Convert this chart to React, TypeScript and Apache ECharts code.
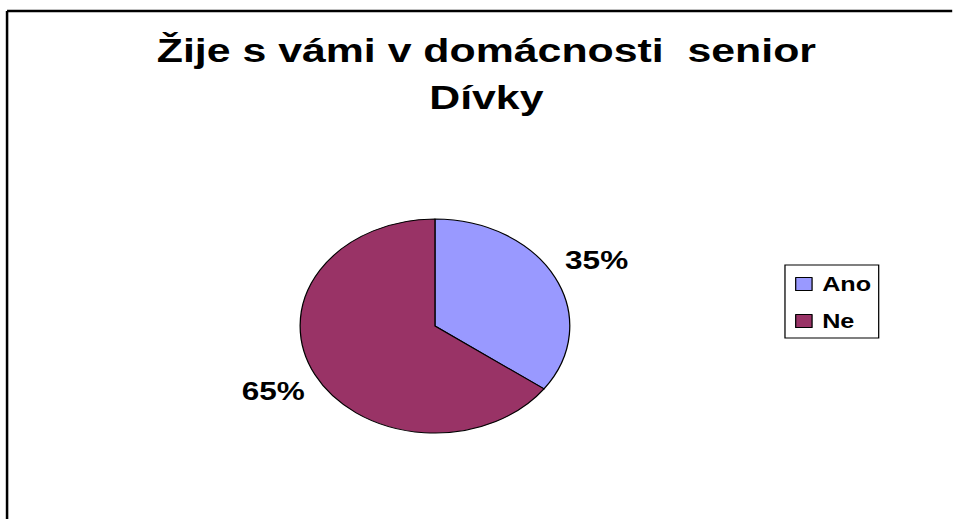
import React, { useEffect, useRef } from "react";
import * as echarts from "echarts";

// ---- data ----
const categories = ["Ano", "Ne"];
const values = [35, 65];
const colors = ["#9999FF", "#993366"];
const titleLines = ["Žije s vámi v domácnosti  senior", "Dívky"];

// the reference is drawn horizontally stretched (elliptical pie, wide glyphs)
const STRETCH = 1.26;
const PAGE_W = 953;
const PAGE_H = 519;
const DESIGN_W = PAGE_W / STRETCH;

const FONT = "'Liberation Sans', Arial, Helvetica, sans-serif";

export default function App() {
  const ref = useRef<HTMLDivElement>(null);

  useEffect(() => {
    if (!ref.current) return;
    document.body.style.margin = "0";
    document.body.style.overflow = "hidden";
    const chart = echarts.init(ref.current, null, { renderer: "svg" });
    const data = categories.map((name, i) => ({
      name,
      value: values[i],
      itemStyle: { color: colors[i] },
    }));
    const center = [345.2, 326];

    chart.setOption({
      animation: false,
      backgroundColor: "#ffffff",
      title: {
        text: titleLines.join("\n"),
        left: 381,
        top: 22,
        textAlign: "center",
        textStyle: {
          fontFamily: FONT,
          fontWeight: "bold",
          fontSize: 34,
          lineHeight: 46.6,
          color: "#000",
        },
      },
      legend: {
        orient: "vertical",
        left: 623,
        top: 265,
        padding: [9, 6, 7, 8],
        itemWidth: 13,
        itemHeight: 13,
        itemGap: 17,
        icon: "rect",
        borderColor: "#000",
        borderWidth: 1,
        selectedMode: false,
        textStyle: {
          fontFamily: FONT,
          fontWeight: "bold",
          fontSize: 20,
          color: "#000",
          padding: [0, 0, 0, 3],
        },
        data: categories.map((name, i) => ({
          name,
          itemStyle: { color: colors[i], borderColor: "#000", borderWidth: 1 },
        })),
      },
      graphic: [
        {
          type: "line",
          shape: { x1: 5.6, y1: 11, x2: DESIGN_W - 0.5, y2: 11 },
          style: { stroke: "#000", lineWidth: 2.5 },
        },
        {
          type: "line",
          shape: { x1: 5.6, y1: 11, x2: 5.6, y2: PAGE_H },
          style: { stroke: "#000", lineWidth: 2 },
        },
      ],
      series: [
        {
          type: "pie",
          name: "Žije s vámi v domácnosti senior",
          center,
          radius: [0, 107],
          startAngle: 90,
          clockwise: true,
          silent: true,
          data,
          label: { show: false },
          labelLine: { show: false },
          itemStyle: { borderColor: "#000", borderWidth: 1 },
          emphasis: { disabled: true },
        },
        {
          type: "pie",
          name: "labels",
          center,
          radius: [127, 155],
          startAngle: 90,
          clockwise: true,
          silent: true,
          percentPrecision: 0,
          data: data.map((d) => ({
            name: d.name,
            value: d.value,
            itemStyle: { color: "transparent", borderWidth: 0 },
          })),
          label: {
            show: true,
            position: "inside",
            formatter: "{d}%",
            fontFamily: FONT,
            fontWeight: "bold",
            fontSize: 25,
            color: "#000",
          },
          labelLine: { show: false },
          emphasis: { disabled: true },
        },
      ],
    });

    return () => {
      chart.dispose();
    };
  }, []);

  return (
    <div
      ref={ref}
      style={{
        position: "fixed",
        left: 0,
        top: 0,
        width: DESIGN_W,
        height: PAGE_H,
        transform: `scaleX(${STRETCH})`,
        transformOrigin: "0 0",
        background: "#fff",
        overflow: "hidden",
      }}
    />
  );
}
